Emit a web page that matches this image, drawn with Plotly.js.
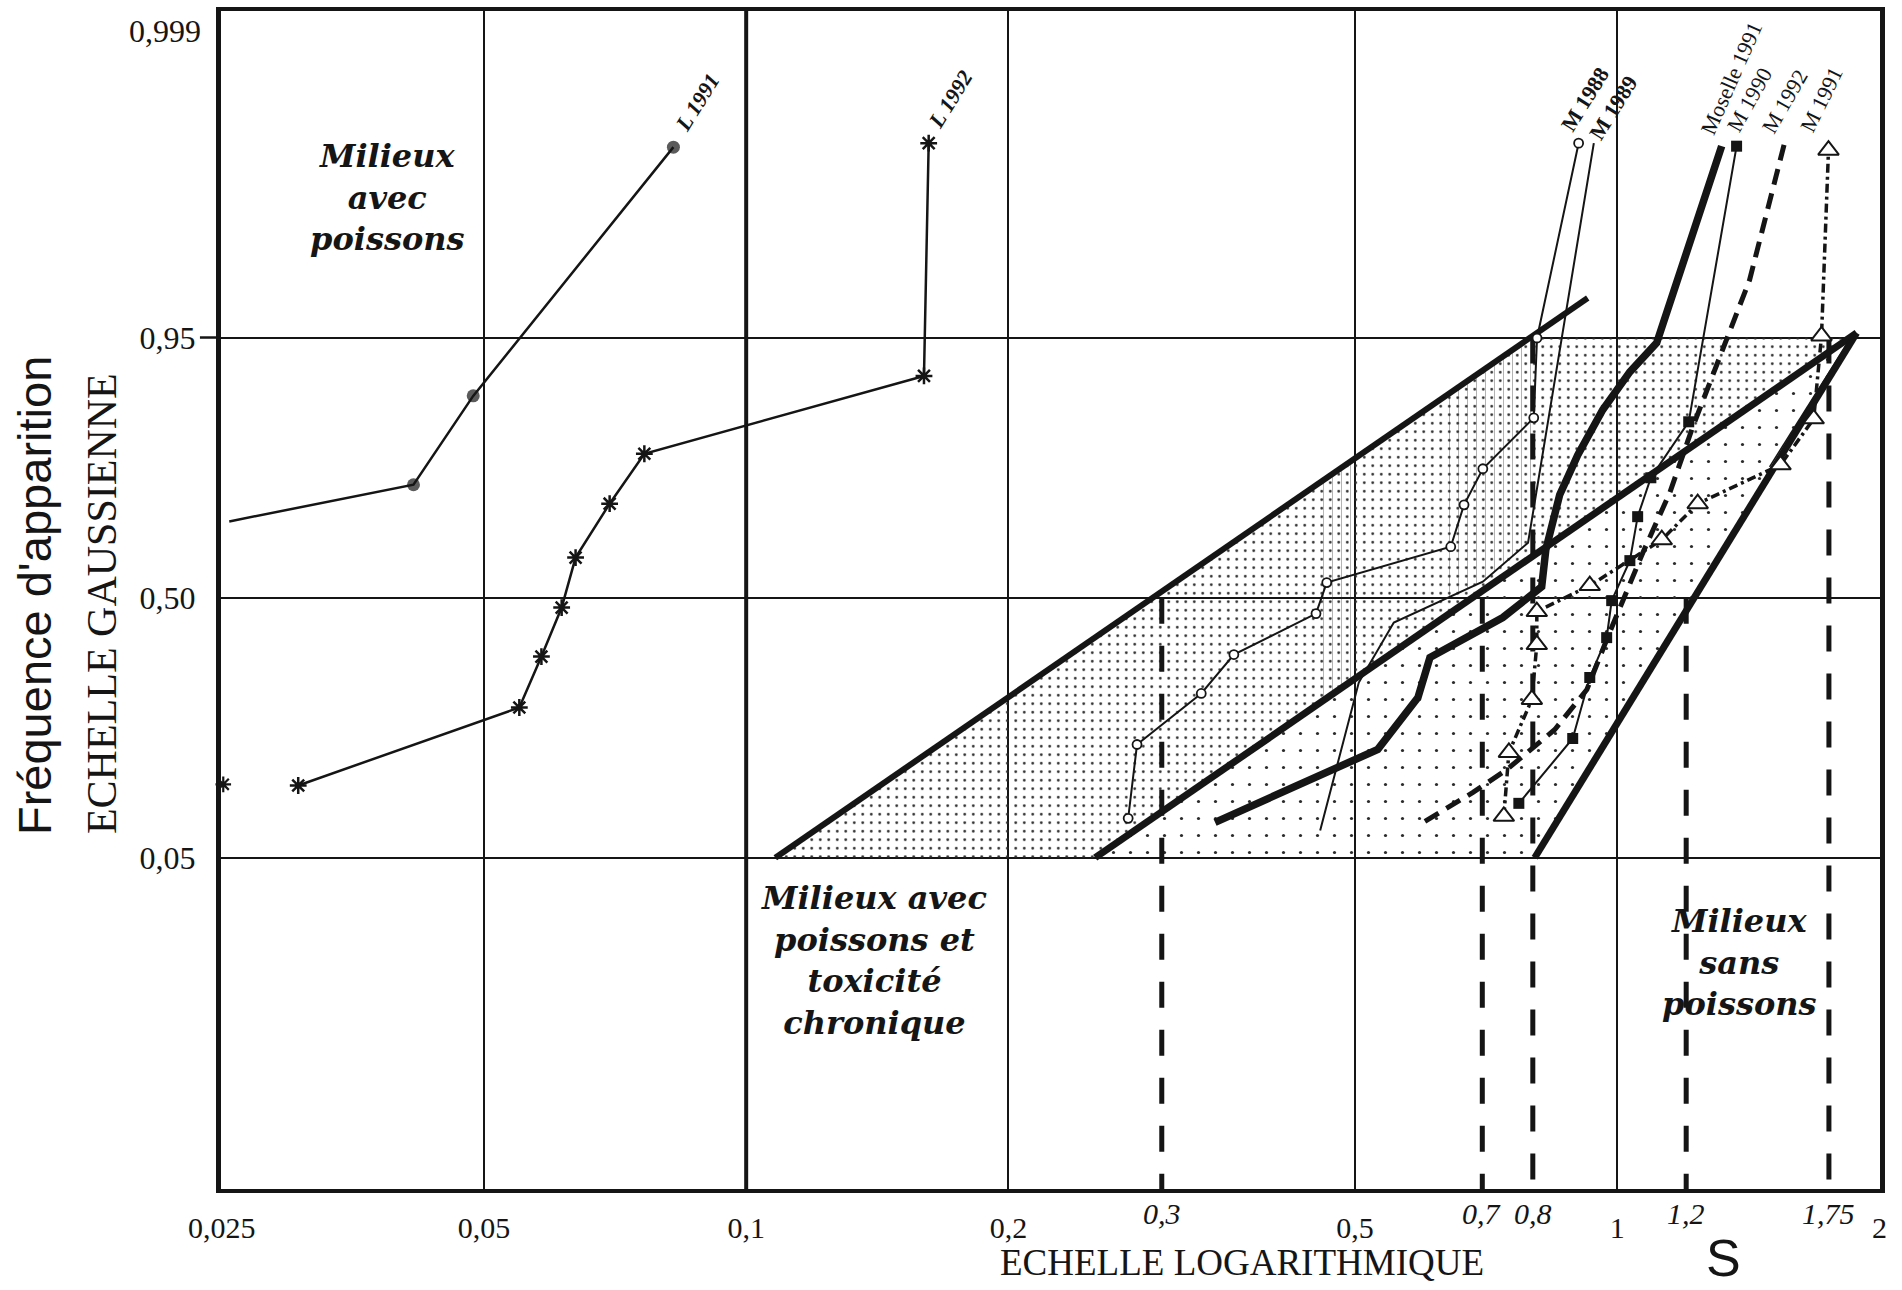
<!DOCTYPE html>
<html><head><meta charset="utf-8">
<script src="https://cdn.plot.ly/plotly-3.0.1.min.js"></script>
<style>html,body{margin:0;padding:0;background:#fff}#chart{width:1902px;height:1290px}</style>
</head><body><div id="chart"></div>
<script>
// x : S (échelle logarithmique) ; z : position sur l'échelle gaussienne (unités probit)
const xTickVals = [0.025, 0.05, 0.1, 0.2, 0.5, 1, 2];
const xTickText = ['0,025', '0,05', '0,1', '0,2', '0,5', '1', '2'];
const critVals = [0.3, 0.7, 0.8, 1.2, 1.75];
const critText = ['0,3', '0,7', '0,8', '1,2', '1,75'];
const critFromZ = [0, 0, 1.645, 0, 1.645];
const yTickVals = [-1.645, 0, 1.645];
const yTickText = ['0,05', '0,50', '0,95'];
const yTopText = '0,999';

// zones
const zoneAX = [0.108, 0.794, 1.85, 0.2516];
const zoneAZ = [-1.645, 1.645, 1.645, -1.645];
const zoneBX = [0.2516, 1.883, 0.804];
const zoneBZ = [-1.645, 1.674, -1.645];
const zoneC1X = [0.4595, 0.497, 0.497, 0.4595];
const zoneC1Z = [0.742, 0.872, -0.522, -0.652];
const zoneC2X = [0.631, 0.794, 0.809, 0.802, 0.790, 0.701, 0.654, 0.631];
const zoneC2Z = [1.264, 1.645, 1.645, 1.137, 0.347, 0.101, 0.025, -0.01];

// limites
const limLeftX = [0.108, 0.925];
const limLeftZ = [-1.645, 1.895];
const limMidX = [0.2516, 1.883];
const limMidZ = [-1.645, 1.674];
const limRightX = [0.804, 1.883];
const limRightZ = [-1.645, 1.674];
const edgeX = [1.496, 1.848];
const edgeZ = [0.827, 1.63];

// séries
const l1991X = [0.0255, 0.0415, 0.0486, 0.0825];
const l1991Z = [0.482, 0.714, 1.276, 2.849];
const l1992X = [0.0306, 0.0549, 0.0582, 0.0614, 0.0637, 0.0697, 0.0764, 0.160, 0.162];
const l1992Z = [-1.188, -0.695, -0.373, -0.063, 0.253, 0.594, 0.910, 1.402, 2.874];
const l1992SoloX = [0.0251];
const l1992SoloZ = [-1.181];
const m1988X = [0.2745, 0.281, 0.333, 0.363, 0.451, 0.464, 0.644, 0.667, 0.701, 0.802, 0.809, 0.903];
const m1988Z = [-1.396, -0.929, -0.606, -0.360, -0.101, 0.095, 0.322, 0.587, 0.815, 1.137, 1.642, 2.874];
const m1989X = [0.456, 0.505, 0.554, 0.654, 0.701, 0.790, 0.940];
const m1989Z = [-1.472, -0.537, -0.158, 0.025, 0.101, 0.347, 2.874];
const moselleX = [0.3454, 0.531, 0.5905, 0.6095, 0.739, 0.819, 0.828, 0.859, 0.901, 0.9625, 1.034, 1.110, 1.318];
const moselleZ = [-1.421, -0.960, -0.632, -0.379, -0.126, 0.069, 0.303, 0.651, 0.903, 1.188, 1.428, 1.611, 2.855];
const m1990X = [0.771, 0.889, 0.930, 0.9725, 0.9855, 1.034, 1.0555, 1.093, 1.208, 1.371];
const m1990Z = [-1.301, -0.891, -0.505, -0.253, -0.019, 0.234, 0.512, 0.758, 1.112, 2.855];
const m1992X = [0.6015, 0.683, 0.747, 0.848, 0.923, 0.980, 1.070, 1.149, 1.221, 1.321, 1.419, 1.556];
const m1992Z = [-1.415, -1.232, -1.087, -0.834, -0.581, -0.221, 0.284, 0.663, 1.080, 1.567, 2.009, 2.874];
const m1991X = [0.741, 0.751, 0.798, 0.8085, 0.8085, 0.930, 1.125, 1.237, 1.540, 1.681, 1.716, 1.748];
const m1991Z = [-1.383, -0.979, -0.644, -0.297, -0.088, 0.076, 0.366, 0.594, 0.840, 1.131, 1.655, 2.830];

const Z_MIN = -3.74, Z_MAX = 3.71;
const INK = '#151515';

function patternFill(x, z, size, solidity, shape, op) {
  return {x: x, y: z, type: 'scatter', mode: 'lines', fill: 'toself',
    fillcolor: 'rgba(0,0,0,0)', line: {width: 0, color: 'rgba(0,0,0,0)'},
    fillpattern: {shape: shape, size: size, solidity: solidity, fgcolor: '#2b2b2b', fgopacity: op, bgcolor: 'rgba(0,0,0,0)'},
    hoverinfo: 'skip'};
}
function line(x, z, width, dash, extra) {
  return Object.assign({x: x, y: z, type: 'scatter', mode: 'lines',
    line: {color: INK, width: width, dash: dash || 'solid'}, hoverinfo: 'skip'}, extra || {});
}

const dashXs = [], dashZs = [];
critVals.forEach(function (v, i) { dashXs.push(v, v, null); dashZs.push(critFromZ[i], Z_MIN, null); });

const traces = [
  line([0.1, 0.1], [Z_MIN, Z_MAX], 4),
  patternFill(zoneAX, zoneAZ, 8.5, 0.08, '.', 1),
  patternFill(zoneBX, zoneBZ, 17, 0.028, '.', 1),
  patternFill(zoneC1X, zoneC1Z, 9, 0.1, '|', 0.4),
  patternFill(zoneC2X, zoneC2Z, 9, 0.1, '|', 0.4),
  line(dashXs, dashZs, 5, '26px,22px'),
  line(limLeftX, limLeftZ, 6),
  line(limMidX, limMidZ, 7),
  line(limRightX, limRightZ, 7),
  line(edgeX, edgeZ, 1.6),
  line(l1991X, l1991Z, 2.5, 'solid', {mode: 'lines+markers', marker: {symbol: 'circle', color: INK, size: [0, 13, 13, 13], line: {color: INK, width: 0}}}),
  line(l1992X, l1992Z, 2.5, 'solid', {mode: 'lines+markers', marker: {symbol: 'asterisk-open', size: 14, color: INK, line: {color: INK, width: 2.5}}}),
  {x: l1992SoloX, y: l1992SoloZ, type: 'scatter', mode: 'markers', cliponaxis: false,
    marker: {symbol: 'asterisk-open', size: 13, color: INK, line: {color: INK, width: 2.2}}, hoverinfo: 'skip'},
  line(m1989X, m1989Z, 2),
  line(m1988X, m1988Z, 2, 'solid', {mode: 'lines+markers', marker: {symbol: 'circle', size: 9, color: '#fff', line: {color: INK, width: 1.8}}}),
  line(moselleX, moselleZ, 7.5),
  line(m1992X, m1992Z, 5, '16px,9px'),
  line(m1990X, m1990Z, 2, 'solid', {mode: 'lines+markers', marker: {symbol: 'square', size: 11, color: INK}}),
  line(m1991X, m1991Z, 3.5, '9px,4px,3px,4px', {mode: 'lines+markers', marker: {symbol: 'triangle-up', size: 18, color: '#fff', line: {color: INK, width: 2}}})
];

const serif = 'Liberation Serif, Times New Roman, serif';
const seriesLabels = [
  {text: '<b><i>L 1991</i></b>', x: 0.0879, z: 3.13, a: -58},
  {text: '<b><i>L 1992</i></b>', x: 0.1715, z: 3.15, a: -58},
  {text: '<b>M 1988</b>', x: 0.918, z: 3.15, a: -58},
  {text: '<b>M 1989</b>', x: 0.99, z: 3.10, a: -58},
  {text: 'Moselle 1991', x: 1.353, z: 3.28, a: -66},
  {text: 'M 1990', x: 1.419, z: 3.15, a: -61},
  {text: 'M 1992', x: 1.556, z: 3.14, a: -60},
  {text: 'M 1991', x: 1.716, z: 3.15, a: -64}
];
const zoneLabels = [
  {text: 'Milieux<br>avec<br>poissons', x: 0.03876, z: 2.53},
  {text: 'Milieux avec<br>poissons et<br>toxicité<br>chronique', x: 0.1403, z: -2.293},
  {text: 'Milieux<br>sans<br>poissons', x: 1.382, z: -2.306}
];

const annotations = [];
seriesLabels.forEach(function (s) {
  annotations.push({x: Math.log10(s.x), y: s.z, xref: 'x', yref: 'y', text: s.text, showarrow: false,
    xanchor: 'center', yanchor: 'middle', textangle: s.a, font: {family: serif, size: 22, color: INK}});
});
zoneLabels.forEach(function (s) {
  annotations.push({x: Math.log10(s.x), y: s.z, xref: 'x', yref: 'y', text: '<b><i>' + s.text + '</i></b>',
    xanchor: 'center', yanchor: 'middle', showarrow: false, align: 'center',
    font: {family: 'DejaVu Serif, serif', size: 32, color: INK}});
});
critVals.forEach(function (v, i) {
  annotations.push({x: Math.log10(v), y: 0, xref: 'x', yref: 'paper', xanchor: 'center', yanchor: 'top', yshift: -6,
    text: '<i>' + critText[i] + '</i>', showarrow: false, font: {family: serif, size: 30, color: INK}});
});
annotations.push({x: 0, y: 1, xref: 'paper', yref: 'paper', xanchor: 'right', yanchor: 'top', xshift: -18, yshift: 0,
  text: yTopText, showarrow: false, font: {family: serif, size: 32, color: INK}});
annotations.push({x: -0.1121, y: 0.5034, xref: 'paper', yref: 'paper', xanchor: 'center', yanchor: 'middle',
  textangle: -90, showarrow: false,
  text: "Fréquence d'apparition", font: {family: 'Liberation Sans, Arial, sans-serif', size: 47, color: INK}});
annotations.push({x: -0.0717, y: 0.4966, xref: 'paper', yref: 'paper', xanchor: 'center', yanchor: 'middle',
  textangle: -90, showarrow: false,
  text: 'ECHELLE GAUSSIENNE', font: {family: serif, size: 42, color: INK}});
annotations.push({x: 0.6154, y: -0.0625, xref: 'paper', yref: 'paper', xanchor: 'center', yanchor: 'middle',
  showarrow: false, text: 'ECHELLE LOGARITHMIQUE', font: {family: serif, size: 37, color: INK}});
annotations.push({x: 0.9054, y: -0.0586, xref: 'paper', yref: 'paper', xanchor: 'center', yanchor: 'middle',
  showarrow: false, text: 'S', font: {family: 'Liberation Sans, Arial, sans-serif', size: 52, color: INK}});

const layout = {
  width: 1902, height: 1290,
  margin: {l: 221, r: 22, t: 11, b: 101},
  paper_bgcolor: '#fff', plot_bgcolor: '#fff', showlegend: false,
  xaxis: {type: 'log', range: [Math.log10(0.02495), Math.log10(2.003)],
    tickmode: 'array', tickvals: xTickVals, ticktext: xTickText, ticks: '',
    showgrid: true, gridcolor: INK, gridwidth: 2, zeroline: false,
    showline: true, mirror: true, linecolor: INK, linewidth: 4,
    tickfont: {family: serif, size: 30, color: INK}, ticklabelstandoff: 9},
  yaxis: {range: [Z_MIN, Z_MAX], tickmode: 'array', tickvals: yTickVals, ticktext: yTickText, ticks: '',
    showgrid: true, gridcolor: INK, gridwidth: 2, zeroline: false,
    showline: true, mirror: true, linecolor: INK, linewidth: 5,
    tickfont: {family: serif, size: 32, color: INK}, ticklabelstandoff: 14},
  shapes: [{type: 'line', xref: 'paper', yref: 'y', x0: -0.0127, x1: 0, y0: 1.645, y1: 1.645,
    line: {color: INK, width: 2.5}}],
  annotations: annotations
};

Plotly.newPlot('chart', traces, layout, {displayModeBar: false, staticPlot: true});
</script></body></html>
